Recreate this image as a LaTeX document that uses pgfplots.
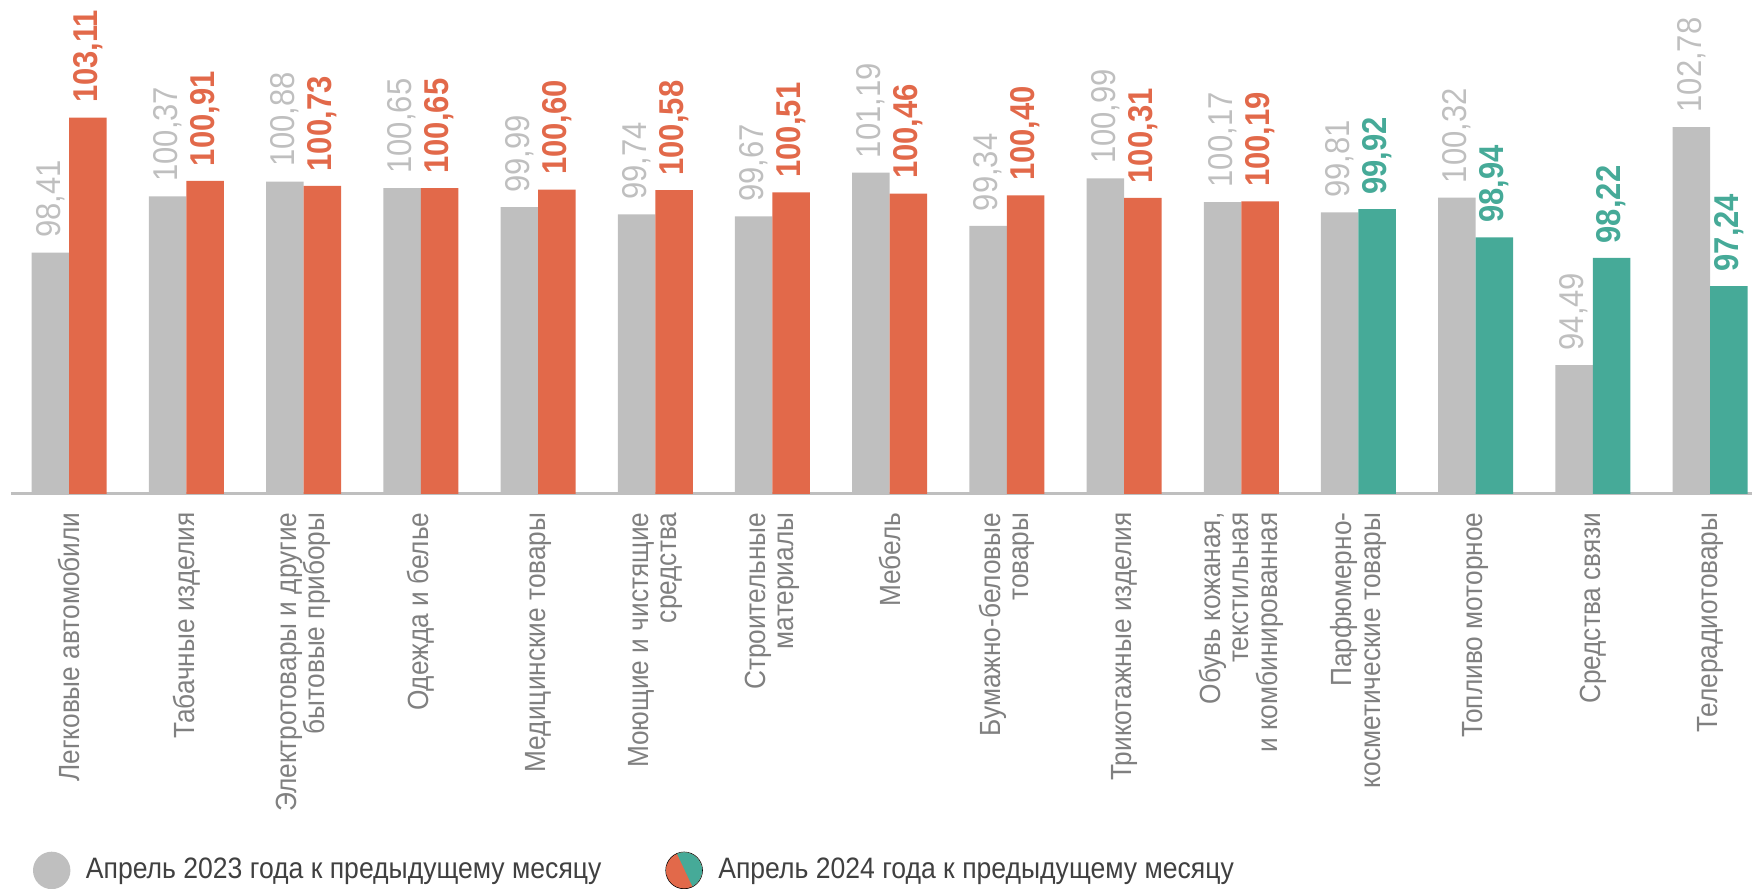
\documentclass[border=0pt]{standalone}
\usepackage{fontspec}
\setmainfont{Liberation Sans}[FakeStretch=0.9]
\usepackage{pgfplots}
\pgfplotsset{compat=1.18}
\definecolor{barGray}{HTML}{BFBFBF}
\definecolor{barOrange}{HTML}{E2694A}
\definecolor{barTeal}{HTML}{46AA98}
\definecolor{catGray}{HTML}{808080}
\definecolor{legText}{HTML}{404040}

\pgfplotsset{
  vals/.style={
    nodes near coords={\pgfmathprintnumber[fixed,fixed zerofill,precision=2,use comma]{\pgfplotspointmeta}},
    every node near coord/.append style={rotate=90, anchor=west, inner xsep=0.14cm, inner ysep=0pt,
      font=\fontsize{9.8}{10}\selectfont #1}
  }
}

\begin{document}
\begin{tikzpicture}
\path[use as bounding box] (0,0) rectangle (17.52,8.89);
\begin{axis}[
  at={(0.11cm,3.951cm)}, anchor=south west,
  x=1.172cm, y=0.287cm,
  xmin=-0.497, xmax=14.36, ymin=90, ymax=107,
  clip=false,
  axis x line*=bottom, axis y line=none,
  x axis line style={barGray, line width=0.85pt},
  ytick=\empty,
  xtick={0,...,14},
  major tick length=0pt,
  xticklabels={
    Легковые автомобили,
    Табачные изделия,
    {Электротовары и другие\\бытовые приборы},
    Одежда и белье,
    Медицинские товары,
    {Моющие и чистящие\\средства},
    {Строительные\\материалы},
    Мебель,
    {Бумажно-беловые\\товары},
    Трикотажные изделия,
    {Обувь кожаная,\\текстильная\\и комбинированная},
    {Парфюмерно-\\косметические товары},
    Топливо моторное,
    Средства связи,
    Телерадиотовары},
  xticklabel style={rotate=90, anchor=east, align=right, inner xsep=0.18cm, inner ysep=0pt,
    text=catGray, font=\fontsize{8.3}{8}\selectfont},
  /pgf/number format/assume math mode=true,
  ybar, bar width=0.375cm,
  legend columns=2,
  legend cell align=left,
  legend style={at={(axis description cs:0,0)}, anchor=west, xshift=0.213cm, yshift=-3.765cm,
    draw=none, fill=none, inner sep=0pt, nodes={inner sep=0pt},
    font=\fontsize{8.4}{10}\selectfont, text=legText,
    /tikz/every odd column/.append style={column sep=0.155cm},
    /tikz/every even column/.append style={column sep=0.64cm}},
]
\addplot[fill=barGray, draw=none, bar shift=-0.1875cm, forget plot, vals={\color{barGray}}]
  coordinates {(0,98.41) (1,100.37) (2,100.88) (3,100.65) (4,99.99) (5,99.74) (6,99.67)
    (7,101.19) (8,99.34) (9,100.99) (10,100.17) (11,99.81) (12,100.32) (13,94.49) (14,102.78)};
\addplot[fill=barOrange, draw=none, bar shift=0.1875cm, forget plot, vals={\bfseries\color{barOrange}}]
  coordinates {(0,103.11) (1,100.91) (2,100.73) (3,100.65) (4,100.60) (5,100.58) (6,100.51)
    (7,100.46) (8,100.40) (9,100.31) (10,100.19)};
\addplot[fill=barTeal, draw=none, bar shift=0.1875cm, forget plot, vals={\bfseries\color{barTeal}}]
  coordinates {(11,99.92) (12,98.94) (13,98.22) (14,97.24)};

\addlegendimage{legend image code/.code={\fill[barGray] (0.18cm,0cm) circle (0.18cm);}}
\addlegendentry{Апрель 2023 года к предыдущему месяцу}
\addlegendimage{legend image code/.code={
  \begin{scope}
  \clip (0.18cm,0cm) circle (0.18cm);
  \fill[barOrange] (0cm,-0.18cm) rectangle (0.36cm,0.18cm);
  \fill[barTeal] (0.11cm,0.18cm) -- (0.36cm,0.18cm) -- (0.36cm,-0.18cm) -- (0.28cm,-0.18cm) -- cycle;
  \end{scope}}}
\addlegendentry{Апрель 2024 года к предыдущему месяцу}
\end{axis}
\end{tikzpicture}
\end{document}
